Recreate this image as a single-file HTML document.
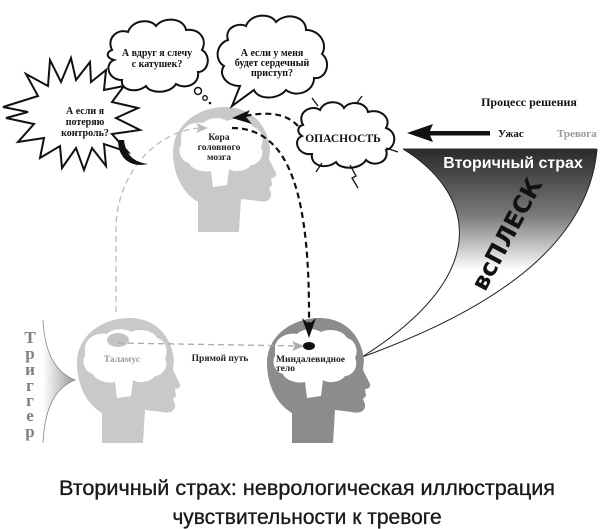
<!DOCTYPE html>
<html><head><meta charset="utf-8"><style>
html,body{margin:0;padding:0;background:#fff;width:614px;height:529px;overflow:hidden}
svg{display:block}
.s{font-family:"Liberation Serif","DejaVu Serif",serif;font-weight:bold}
</style></head><body>
<svg width="614" height="529" viewBox="0 0 614 529" xmlns="http://www.w3.org/2000/svg">
<defs>
<linearGradient id="wg" x1="0" y1="149" x2="0" y2="270" gradientUnits="userSpaceOnUse">
<stop offset="0" stop-color="#2a2a2a"/><stop offset="0.55" stop-color="#7a7a7a"/><stop offset="1" stop-color="#fff"/>
</linearGradient>
<linearGradient id="tg" x1="0" y1="0" x2="1" y2="0">
<stop offset="0" stop-color="#fff"/><stop offset="1" stop-color="#999"/>
</linearGradient>
<g id="head">
<path d="M25,125 L25,95 C8,85 0,65 0,45 C0,18 25,0 52,0 C80,0 95,20 97,42 L96,52 L103,66 C104,70 100,71 98,71 L99,78 L96,81 L98,86 C99,93 93,96 85,94 L68,92 L66,125 Z"/>
</g>
<path id="brain" d="M8,30 C8,20 20,14 30,16 C36,10 48,10 54,14 C62,10 76,12 80,20 C88,22 92,32 88,40 C92,48 86,58 78,58 C74,64 62,66 56,62 L54,78 L40,80 L38,64 C30,66 18,62 16,56 C8,54 4,44 8,38 Z" fill="#fff"/>
</defs>

<path d="M403,149 L597,149 C590,230 520,300 362,357 C500,270 470,190 403,149 Z" fill="url(#wg)"/>
<path d="M403,149 C470,190 500,270 362,357 M597,149 C590,230 520,300 362,357" fill="none" stroke="#222" stroke-width="1"/>
<line x1="403" y1="149" x2="597" y2="149" stroke="#333" stroke-width="1"/>
<text x="513" y="168" text-anchor="middle" fill="#fff" font-family="Liberation Sans,DejaVu Sans,sans-serif" font-size="16" font-weight="bold">Вторичный страх</text>
<text transform="translate(514,238) rotate(-62)" text-anchor="middle" font-family="DejaVu Sans,Liberation Sans,sans-serif" font-size="24" font-weight="900" fill="#111">всПЛЕСК</text>

<g fill="#c9c9c9"><use href="#head" x="173" y="107"/></g>
<g transform="translate(173,107)"><use href="#brain"/></g>
<g fill="#c9c9c9"><use href="#head" x="77" y="318"/></g>
<g transform="translate(77,318)"><use href="#brain"/></g>
<g fill="#8c8c8c"><use href="#head" x="267" y="318"/></g>
<g transform="translate(267,318)"><use href="#brain"/></g>

<path d="M43,320 C45,360 60,374 75,380 C60,386 45,400 43,443 Z" fill="url(#tg)"/>
<path d="M43,320 C45,360 60,374 75,380 C60,386 45,400 43,443" fill="none" stroke="#888" stroke-width="0.8"/>
<g class="s" fill="#808080" font-size="17" text-anchor="middle">
<text x="30" y="343">Т</text><text x="30" y="359">р</text><text x="30" y="375">и</text><text x="30" y="391">г</text><text x="30" y="406">г</text><text x="30" y="421">е</text><text x="30" y="437">р</text>
</g>

<ellipse cx="118" cy="340" rx="11" ry="7" fill="#c4c4c4"/>
<text x="122" y="362" class="s" font-size="9.5" fill="#999" text-anchor="middle" font-weight="normal">Таламус</text>
<text x="220" y="361" class="s" font-size="9.5" fill="#222" text-anchor="middle">Прямой путь</text>
<path d="M118,343 L298,346" stroke="#aaa" stroke-width="1.3" stroke-dasharray="6,4" fill="none"/>
<path d="M304,346 L292,341 L295,346 L292,351 Z" fill="#aaa"/>
<path d="M116,312 L116,230 C116,170 160,130 200,128" stroke="#bbb" stroke-width="1.3" stroke-dasharray="6,4" fill="none"/>
<path d="M208,128 L196,123 L199,128 L196,133 Z" fill="#bbb"/>

<ellipse cx="309" cy="346" rx="6" ry="4" fill="#111"/>
<text x="276" y="362" class="s" font-size="9.5" fill="#222">Миндалевидное</text>
<text x="276" y="371" class="s" font-size="9.5" fill="#222">тело</text>

<text class="s" font-size="9.5" fill="#222" text-anchor="middle"><tspan x="219" y="140">Кора</tspan><tspan x="219" y="150">головного</tspan><tspan x="219" y="160">мозга</tspan></text>

<path d="M232,128 C292,128 310,200 309,325" stroke="#111" stroke-width="2.2" stroke-dasharray="6,4" fill="none"/>
<path d="M309,338 L302,318 L309,324 L316,318 Z" fill="#111"/>
<path d="M298,126 C285,112 265,112 245,116" stroke="#111" stroke-width="2.2" stroke-dasharray="6,4" fill="none"/>
<path d="M232,118 L250,110 L246,117 L252,124 Z" fill="#111"/>

<path d="M303,125 C296,112 312,104 320,110 C324,100 340,100 344,108 C350,100 366,102 368,112 C380,108 392,118 386,128 C398,132 396,148 386,150 C390,162 374,168 366,160 C360,170 340,170 336,162 C326,170 310,166 312,154 C298,156 292,140 302,136 C296,132 298,126 303,125 Z" fill="#fff" stroke="#111" stroke-width="2"/>
<path d="M318,106 L312,98 M356,104 L362,96 M386,148 L398,152 M350,165 L356,176 L352,178 L358,188 M322,163 L316,172" stroke="#111" stroke-width="1.3" fill="none"/>
<text x="343" y="142" class="s" font-size="11.5" fill="#111" text-anchor="middle">ОПАСНОСТЬ</text>

<rect x="428" y="131" width="62" height="4.5" fill="#111"/>
<path d="M407,133 L433,124 L429,133 L433,142 Z" fill="#111"/>
<text x="498" y="137" class="s" font-size="11" fill="#111">Ужас</text>
<text x="557" y="137" class="s" font-size="11" fill="#999" font-weight="normal">Тревога</text>
<text x="529" y="106" class="s" font-size="12" fill="#111" text-anchor="middle">Процесс решения</text>

<path d="M3,107 L38,96 L26,74 L48,86 L50,60 L61,82 L71,58 L76,80 L90,62 L91,82 L106,70 L104,90 L124,86 L112,102 L138,108 L116,118 L140,130 L112,134 L128,152 L104,144 L106,166 L92,148 L84,170 L76,148 L62,168 L60,146 L40,158 L44,138 L18,142 L34,124 L6,118 L28,112 Z" fill="#fff" stroke="#111" stroke-width="2" stroke-linejoin="miter"/>
<path d="M118,140 C118,158 130,168 148,164 C134,162 126,156 124,140 Z" fill="#111"/>
<text class="s" font-size="10" fill="#111" text-anchor="middle"><tspan x="85" y="114">А если я</tspan><tspan x="85" y="125">потеряю</tspan><tspan x="85" y="136">контроль?</tspan></text>

<path d="M112,50 C106,38 118,28 128,32 C132,20 150,18 156,26 C164,16 184,18 186,30 C198,28 208,38 202,50 C212,56 208,72 198,72 C200,84 186,90 176,84 C170,94 150,94 146,86 C136,94 120,90 122,80 C108,80 104,64 114,60 C106,58 106,52 112,50 Z" fill="#fff" stroke="#111" stroke-width="2"/>
<text class="s" font-size="10" fill="#111" text-anchor="middle"><tspan x="157" y="56">А вдруг я слечу</tspan><tspan x="157" y="67">с катушек?</tspan></text>
<circle cx="198" cy="91" r="3.5" fill="#fff" stroke="#111" stroke-width="1.5"/>
<circle cx="205" cy="98" r="2.3" fill="#fff" stroke="#111" stroke-width="1.3"/>
<circle cx="210" cy="103" r="1.3" fill="#111"/>

<path d="M228,40 C224,28 238,22 246,26 C250,14 270,12 276,22 C286,12 306,16 306,30 C320,30 328,44 322,54 C332,62 326,80 314,78 C314,92 296,98 286,90 C278,100 258,100 254,90 L232,106 L240,86 C226,86 218,74 224,66 C214,60 216,44 228,40 Z" fill="#fff" stroke="#111" stroke-width="2"/>
<text class="s" font-size="10" fill="#111" text-anchor="middle"><tspan x="272" y="56">А если у меня</tspan><tspan x="272" y="66">будет сердечный</tspan><tspan x="272" y="76">приступ?</tspan></text>

<g font-family="Liberation Sans,DejaVu Sans,sans-serif" font-size="21" fill="#1a1a1a" text-anchor="middle" stroke="#1a1a1a" stroke-width="0.35">
<text x="307" y="495" textLength="496" lengthAdjust="spacingAndGlyphs">Вторичный страх: неврологическая иллюстрация</text>
<text x="307" y="524">чувствительности к тревоге</text>
</g>
</svg>
</body></html>
